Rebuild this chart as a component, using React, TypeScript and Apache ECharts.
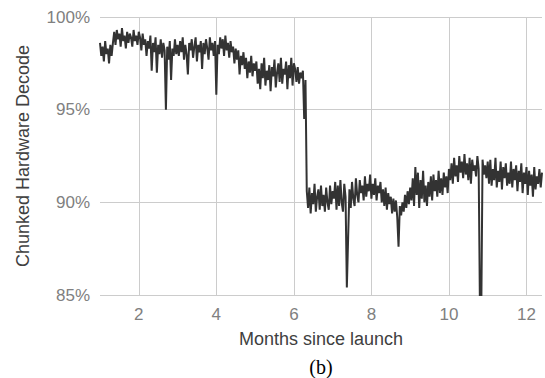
import React, { useEffect, useRef } from "react";
import * as echarts from "echarts";

// Daily samples (one per day, 30 per month) of chunked hardware decode share (%)
const startMonth = 1;
const daysPerMonth = 30;

const month1 = [98.6, 97.9, 98.4, 97.6, 98.7, 98.0, 98.3, 97.5, 98.5, 97.9, 98.6,
  99.2, 98.5, 99.3, 98.8, 99.1, 98.4, 99.4, 98.7, 99.0, 98.3, 99.2, 98.6, 99.1, 98.9, 98.4, 99.3, 98.7, 99.0, 98.5, 99.2];
const month2 = [98.9, 98.2, 99.1, 98.5, 98.8, 97.9, 98.7, 98.3, 99.0, 97.1, 98.6, 98.1, 98.9, 97.0, 98.5,
  98.0, 98.8, 97.8, 98.6, 98.2, 95.0, 98.4, 97.7, 98.7, 96.6, 98.3, 97.9, 98.8, 98.0, 98.5];
const month3 = [97.9, 98.7, 98.1, 98.9, 97.7, 98.5, 98.0, 96.9, 98.6, 98.2, 98.8, 97.8, 98.4, 98.9, 97.6,
  98.5, 98.1, 98.7, 97.2, 98.6, 98.0, 98.8, 98.3, 97.7, 98.9, 98.2, 98.6, 97.9, 98.7, 95.8];
const month4 = [98.5, 98.0, 98.9, 98.3, 98.8, 97.9, 99.0, 98.2, 98.6, 97.8, 98.7, 98.1,
  98.4, 97.5, 98.3, 97.7, 98.2, 96.9, 97.9, 97.4, 98.1, 97.2, 97.8, 96.7, 97.6, 97.0, 97.9, 96.8, 97.5, 97.1];
const month5 = [97.6, 96.4, 97.2, 96.1, 97.5, 96.7, 97.8, 96.3, 97.1, 96.6, 97.4, 96.0, 97.3, 96.8, 97.7,
  96.2, 97.0, 97.5, 96.5, 97.8, 96.4, 97.2, 96.9, 97.6, 96.1, 97.4, 96.7, 97.8, 96.3, 97.5];
const month6 = [97.2, 96.5, 97.3, 96.4, 97.0, 96.7, 97.1, 94.5, 96.6, 90.6,
  89.7, 90.8, 89.4, 90.5, 89.9, 91.0, 89.5, 90.3, 90.7, 89.6, 90.9, 89.8, 90.4, 89.5, 90.8, 90.0, 89.6, 90.9, 89.9, 90.6];
const month7 = [90.2, 91.1, 89.6, 90.9, 89.8, 91.2, 90.0, 89.5, 91.0, 90.3, 85.4, 88.1, 90.7, 89.7, 91.1,
  90.2, 89.8, 91.3, 90.4, 90.0, 91.2, 90.5, 90.9, 90.1, 91.4, 90.3, 91.0, 90.6, 91.5, 90.2];
const month8 = [91.0, 90.4, 91.3, 90.1, 90.9, 90.5, 91.1, 90.0, 90.7, 89.8, 90.8, 89.6, 90.5, 89.9, 90.3,
  89.4, 90.2, 89.5, 90.1, 89.2, 87.6, 89.8, 89.3, 90.0, 89.5, 90.4, 89.7, 90.6, 89.9, 90.8];
const month9 = [90.1, 91.3, 89.8, 91.9, 90.4, 91.6, 89.7, 91.2, 90.2, 91.7, 90.0, 90.9, 89.8, 91.1, 90.3,
  91.4, 90.1, 91.5, 90.6, 91.2, 90.3, 91.7, 90.5, 91.3, 90.4, 91.6, 90.8, 91.4, 90.5, 91.8];
const month10 = [91.2, 92.1, 91.0, 92.4, 91.4, 92.0, 91.1, 92.5, 91.6, 92.2, 91.3, 92.6, 91.5, 92.1, 91.2,
  92.4, 91.0, 92.3, 91.7, 92.0, 91.4, 92.5, 91.8, 84.2, 84.0, 92.3, 91.5, 92.0, 91.3, 92.2];
const month11 = [91.0, 92.3, 90.9, 91.8, 91.2, 92.4, 90.8, 91.7, 91.1, 92.2, 90.7, 91.9, 91.3, 92.1, 90.9,
  91.6, 91.0, 92.2, 90.8, 91.8, 91.2, 92.0, 90.6, 91.7, 91.1, 92.1, 90.5, 91.6, 91.0, 91.9];
const month12 = [90.4, 91.7, 90.9, 91.5, 90.3, 91.9, 90.7, 91.4, 91.0, 91.8, 90.8, 91.6];

const yTicks = [85, 90, 95, 100];

const values = [
  ...month1, ...month2, ...month3, ...month4, ...month5, ...month6,
  ...month7, ...month8, ...month9, ...month10, ...month11, ...month12,
];

export default function App() {
  const ref = useRef<HTMLDivElement>(null);
  useEffect(() => {
    if (!ref.current) return;
    document.body.style.margin = "0";
    document.body.style.overflow = "hidden";
    const chart = echarts.init(ref.current, undefined, { renderer: "svg" });
    const data = values.map((v, i) => [startMonth + i / daysPerMonth, v]);
    chart.setOption({
      animation: false,
      backgroundColor: "#ffffff",
      grid: { left: 100, right: 3, top: 17, bottom: 83, containLabel: false },
      xAxis: {
        type: "value",
        min: 1,
        max: 12.4,
        name: "Months since launch",
        nameLocation: "middle",
        nameGap: 35,
        nameTextStyle: { fontSize: 18, color: "#404040", fontFamily: "Liberation Sans, Arial, sans-serif" },
        axisLine: { show: false },
        axisTick: { show: false },
        axisLabel: {
          showMinLabel: false,
          showMaxLabel: false,
          fontSize: 17,
          color: "#808080",
          margin: 11,
          fontFamily: "Liberation Sans, Arial, sans-serif",
        },
        splitLine: { show: true, showMinLine: false, showMaxLine: false, lineStyle: { color: "#cccccc", width: 1 } },
      },
      yAxis: {
        type: "value",
        min: yTicks[0],
        max: yTicks[yTicks.length - 1],
        interval: 5,
        name: "Chunked Hardware Decode",
        nameLocation: "middle",
        nameGap: 68,
        nameTextStyle: { fontSize: 18, color: "#404040", fontFamily: "Liberation Sans, Arial, sans-serif" },
        axisLine: { show: false },
        axisTick: { show: false },
        axisLabel: {
          formatter: "{value}%",
          fontSize: 17,
          color: "#808080",
          margin: 10,
          fontFamily: "Liberation Sans, Arial, sans-serif",
        },
        splitLine: { show: true, lineStyle: { color: "#cccccc", width: 1 } },
      },
      graphic: [
        {
          type: "text",
          x: 321,
          y: 367,
          style: {
            text: "(b)",
            fontSize: 20,
            fontFamily: "Liberation Serif, Times New Roman, serif",
            fill: "#000000",
            align: "center",
            verticalAlign: "middle",
          },
        },
      ],
      series: [
        {
          type: "line",
          data,
          showSymbol: false,
          clip: true,
          lineStyle: { color: "#333333", width: 2 },
        },
      ],
    });
    return () => chart.dispose();
  }, []);
  return (
    <div
      ref={ref}
      style={{ position: "absolute", left: 0, top: 0, width: 545, height: 378 }}
    />
  );
}
